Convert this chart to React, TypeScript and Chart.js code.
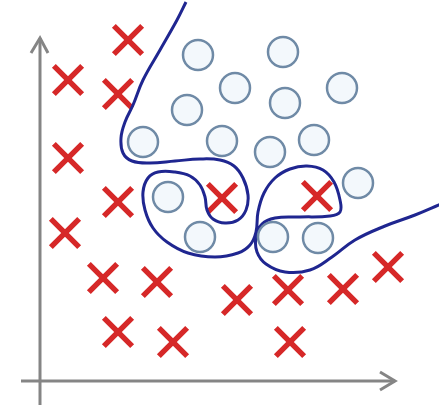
import React, { useEffect, useRef } from "react";
import { Chart, registerables } from "chart.js";

Chart.register(...registerables);

// Data space: origin at the axes' crossing point
const crossX = [88, 28, 78, 28, 78, 182, 277, 25, 63, 117, 78, 133, 197, 248, 303, 348, 250];
const crossY = [341, 301, 287, 223, 179, 183, 185, 148, 103, 99, 49, 39, 81, 91, 92, 114, 39];

const circleX = [158, 243, 195, 302, 147, 245, 103, 182, 230, 274, 318, 128, 160, 233, 278];
const circleY = [326, 329, 293, 293, 271, 278, 239, 240, 229, 241, 198, 184, 144, 144, 143];

const boundaryX = [146, 137, 120, 103, 93, 85, 81, 83, 92, 110, 135, 160, 180, 194, 203, 208, 206, 198, 185, 173, 167, 165, 160, 150, 135, 118, 108, 103, 105, 113, 127, 148, 175, 198, 210, 216, 218, 224, 235, 250, 267, 283, 294, 300, 300, 290, 260, 235, 222, 216, 217, 226, 245, 270, 292, 315, 345, 375, 401];
const boundaryY = [379, 361, 331, 301, 276, 259, 243, 228, 220, 218, 220, 222, 221, 215, 203, 186, 171, 161, 158, 162, 171, 184, 196, 205, 209, 209, 203, 189, 171, 153, 139, 128, 124, 128, 136, 149, 169, 188, 203, 212, 215, 211, 199, 181, 169, 165, 164, 163, 157, 144, 129, 117, 109, 111, 124, 141, 155, 166, 177];

const yAxisX = [0, 0];
const yAxisY = [-24, 343];
const yArrowX = [-9, 0, 8];
const yArrowY = [328, 343, 328];
const xAxisX = [-19, 355];
const xAxisY = [0, 0];
const xArrowX = [340, 355, 340];
const xArrowY = [9, 0, -9];

const toPts = (xs: number[], ys: number[]) => xs.map((x, i) => ({ x, y: ys[i] }));

export default function App() {
  const ref = useRef<HTMLCanvasElement | null>(null);
  useEffect(() => {
    document.body.style.margin = "0";
    const ctx = ref.current!;
    const axisStyle = {
      showLine: true,
      pointRadius: 0,
      borderColor: "#858585",
      borderWidth: 3,
      tension: 0,
      fill: false,
      clip: false,
    };
    const chart = new Chart(ctx, {
      type: "scatter",
      data: {
        datasets: [
          { label: "yAxis", data: toPts(yAxisX, yAxisY), ...axisStyle },
          { label: "yArrow", data: toPts(yArrowX, yArrowY), ...axisStyle },
          { label: "xAxis", data: toPts(xAxisX, xAxisY), ...axisStyle },
          { label: "xArrow", data: toPts(xArrowX, xArrowY), ...axisStyle },
          {
            label: "circles",
            data: toPts(circleX, circleY),
            pointStyle: "circle",
            pointRadius: 15,
            pointBorderWidth: 2.5,
            pointBorderColor: "#6f8aa6",
            pointBackgroundColor: "#f3f8fc",
            showLine: false,
            clip: false,
          },
          {
            label: "boundary",
            data: toPts(boundaryX, boundaryY),
            showLine: true,
            pointRadius: 0,
            borderColor: "#1f2690",
            borderWidth: 3,
            tension: 0.4,
            fill: false,
            clip: false,
          },
          {
            label: "crosses",
            data: toPts(crossX, crossY),
            pointStyle: "crossRot",
            pointRadius: 20,
            pointBorderWidth: 5.5,
            pointBorderColor: "#d62828",
            pointBackgroundColor: "#d62828",
            showLine: false,
            clip: false,
          },
        ] as any,
      },
      options: {
        animation: false,
        responsive: false,
        events: [],
        layout: { padding: 0, autoPadding: false },
        plugins: { legend: { display: false }, tooltip: { enabled: false } },
        scales: {
          x: { type: "linear", min: -40, max: 399, display: false },
          y: { type: "linear", min: -30, max: 381, display: false },
        },
      } as any,
    });
    return () => chart.destroy();
  }, []);
  return (
    <div style={{ position: "fixed", left: 0, top: 0, width: 439, height: 411, background: "#ffffff" }}>
      <canvas ref={ref} width={439} height={411} style={{ width: 439, height: 411, display: "block" }} />
    </div>
  );
}
